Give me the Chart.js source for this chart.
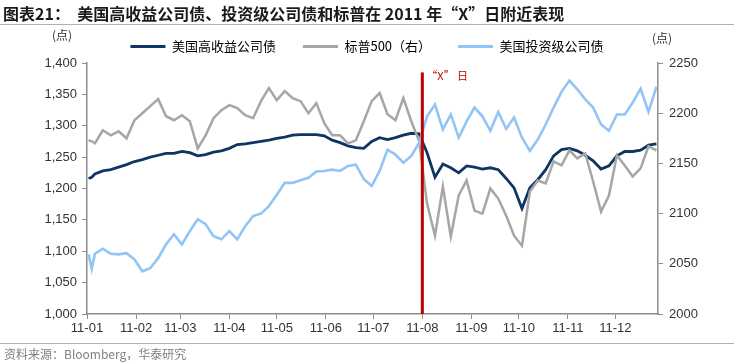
<!DOCTYPE html>
<html>
<head>
<meta charset="utf-8">
<script src="https://cdn.jsdelivr.net/npm/chart.js@4.4.1/dist/chart.umd.min.js"></script>
<style>
  body { margin: 0; background: #fff; }
  #page { position: relative; width: 734px; height: 364px; overflow: hidden; }
  #title { position: absolute; left: 3px; top: 1px; font: bold 16px "Noto Sans CJK SC", sans-serif; color: #1a1a1a; white-space: pre; }
  .rule { position: absolute; left: 0; width: 734px; height: 1px; background: #9fb4ca; }
  .unit { position: absolute; font: 12px "Noto Sans CJK SC", sans-serif; color: #333; }
  #source { position: absolute; left: 4px; top: 345px; font: 12px "Noto Sans CJK SC", sans-serif; color: #808080; }
  canvas { position: absolute; left: 0; top: 0; }
</style>
</head>
<body>
<div id="page">
  <canvas id="chart" width="734" height="364"></canvas>
  <div id="title">图表21：  美国高收益公司债、投资级公司债和标普在 2011 年“X”日附近表现</div>
  <div class="rule" style="top:24px"></div>
  <div class="unit" style="left:52px;top:26px">(点)</div>
  <div class="unit" style="left:652px;top:29px">(点)</div>
  <div class="rule" style="top:343px"></div>
  <div id="source">资料来源：Bloomberg，华泰研究</div>
</div>
<script>
// day of year 2011 (0 = Jan 1)
const days = [1, 3, 5, 10, 15, 20, 25, 30, 35, 40, 45, 50, 55, 60, 65, 70, 75, 80, 85, 90,
  95, 100, 105, 110, 115, 120, 125, 130, 135, 140, 145, 150, 155, 160, 165, 170, 175, 180,
  185, 190, 195, 200, 205, 210, 215, 220, 225, 230, 235, 240, 245, 250, 255, 260, 265, 270,
  275, 280, 285, 290, 295, 300, 305, 310, 315, 320, 325, 330, 335, 340, 345, 350, 355, 360]

const monthStarts = [0, 31, 59, 90, 120, 151, 181, 212, 243, 273, 304, 334]
const monthLabels = ["11-01", "11-02", "11-03", "11-04", "11-05", "11-06",
  "11-07", "11-08", "11-09", "11-10", "11-11", "11-12"]

// 美国高收益公司债 (left)
const highYield = [1216, 1218, 1223, 1228, 1230, 1234, 1238, 1243, 1246, 1250, 1253, 1256, 1256, 1259, 1257, 1252, 1254, 1258, 1260, 1264,
  1270, 1271, 1273, 1275, 1277, 1280, 1282, 1285, 1286, 1286, 1286, 1284, 1277, 1273, 1268, 1265, 1264, 1275,
  1281, 1278, 1281, 1285, 1288, 1287, 1257, 1218, 1239, 1233, 1225, 1236, 1234, 1231, 1233, 1230, 1216, 1201,
  1168, 1201, 1214, 1230, 1252, 1262, 1264, 1260, 1253, 1244, 1231, 1236, 1252, 1259, 1259, 1261, 1269, 1271]

// 标普500 (right)
const spx = [2173, 2172, 2170, 2183, 2178, 2182, 2175, 2193, 2200, 2207, 2214, 2197, 2193, 2198, 2192, 2165, 2178, 2195, 2203, 2208,
  2205, 2198, 2195, 2212, 2225, 2213, 2222, 2215, 2212, 2200, 2210, 2190, 2178, 2178, 2170, 2173, 2192, 2212,
  2220, 2199, 2193, 2215, 2192, 2172, 2110, 2078, 2127, 2077, 2118, 2133, 2103, 2100, 2125, 2115, 2098, 2078,
  2068, 2122, 2133, 2130, 2152, 2148, 2163, 2155, 2160, 2132, 2102, 2118, 2158, 2148, 2137, 2145, 2167, 2163]

// 美国投资级公司债 (left)
const investGrade = [1095, 1072, 1096, 1104, 1096, 1095, 1097, 1087, 1068, 1073, 1089, 1111, 1127, 1111, 1132, 1151, 1143, 1124, 1119, 1132,
  1119, 1140, 1156, 1160, 1172, 1190, 1209, 1209, 1213, 1217, 1227, 1228, 1230, 1228, 1236, 1238, 1215, 1204,
  1228, 1262, 1254, 1241, 1252, 1273, 1315, 1334, 1294, 1318, 1281, 1307, 1329, 1315, 1292, 1322, 1295, 1313,
  1281, 1260, 1278, 1302, 1329, 1354, 1372, 1358, 1342, 1329, 1302, 1292, 1318, 1318, 1337, 1359, 1322, 1362]

const xDay = 212 // “X”日, 2011-08-01

const axisColor = "#8c8c8c"
const tickFont = { family: "Liberation Sans", size: 13 }

const toPoints = (vals) => days.map((d, i) => ({ x: d, y: vals[i] }))

const xDayLine = {
  id: "xDayLine",
  afterDatasetsDraw(chart) {
    const { ctx, scales } = chart
    const px = scales.x.getPixelForValue(xDay)
    const top = scales.y.getPixelForValue(1385)
    ctx.save()
    ctx.strokeStyle = "#c00000"
    ctx.lineWidth = 3
    ctx.beginPath()
    ctx.moveTo(px, top)
    ctx.lineTo(px, scales.y.bottom)
    ctx.stroke()
    ctx.fillStyle = "#c00000"
    ctx.font = '11px "Noto Sans CJK SC"'
    ctx.textBaseline = "middle"
    ctx.fillText("“X” 日", px + 4, top + 3)
    ctx.restore()
  },
}

new Chart(document.getElementById("chart"), {
  type: "line",
  data: {
    datasets: [
      { label: "美国高收益公司债", data: toPoints(highYield), yAxisID: "y", borderColor: "#0f3563", borderWidth: 2.8, order: 3 },
      { label: "标普500（右）", data: toPoints(spx), yAxisID: "y2", borderColor: "#a6a6a6", borderWidth: 2.5, order: 2 },
      { label: "美国投资级公司债", data: toPoints(investGrade), yAxisID: "y", borderColor: "#92c5f6", borderWidth: 2.6, order: 1 },
    ],
  },
  options: {
    responsive: false,
    animation: false,
    devicePixelRatio: 1,
    layout: { padding: { top: 13, left: 0, right: 0, bottom: 0 } },
    elements: { point: { radius: 0 }, line: { tension: 0 } },
    plugins: {
      tooltip: { enabled: false },
      legend: {
        position: "top",
        labels: {
          boxWidth: 35,
          boxHeight: 3,
          padding: 27,
          color: "#333",
          font: { family: "Noto Sans CJK SC", size: 13 },
          sort: (a, b) => a.datasetIndex - b.datasetIndex,
          generateLabels: (chart) =>
            chart.data.datasets.map((ds, i) => ({
              text: ds.label,
              fillStyle: ds.borderColor,
              strokeStyle: ds.borderColor,
              lineWidth: 0,
              hidden: false,
              datasetIndex: i,
            })),
        },
      },
    },
    scales: {
      x: {
        type: "linear",
        min: 0,
        max: 361,
        afterBuildTicks: (s) => { s.ticks = monthStarts.map((v) => ({ value: v })) },
        afterFit: (s) => { s.height = 50 },
        ticks: { autoSkip: false, maxRotation: 0, padding: 2, color: "#333", font: tickFont,
          callback: (v, i) => monthLabels[i] },
        grid: { drawOnChartArea: false, tickLength: 5, color: axisColor },
        border: { color: axisColor, width: 1.5 },
      },
      y: {
        position: "left",
        min: 1000,
        max: 1400,
        afterFit: (s) => { s.width = 87 },
        ticks: { stepSize: 50, padding: 5, color: "#333", font: tickFont,
          callback: (v) => v.toLocaleString("en-US") },
        grid: { drawOnChartArea: false, tickLength: 5, color: axisColor },
        border: { color: axisColor, width: 1.5 },
      },
      y2: {
        position: "right",
        min: 2000,
        max: 2250,
        afterFit: (s) => { s.width = 76 },
        ticks: { stepSize: 50, padding: 6, color: "#333", font: tickFont,
          callback: (v) => String(v) },
        grid: { drawOnChartArea: false, tickLength: 5, color: axisColor },
        border: { color: axisColor, width: 1.5 },
      },
    },
  },
  plugins: [xDayLine],
})
</script>
</body>
</html>
